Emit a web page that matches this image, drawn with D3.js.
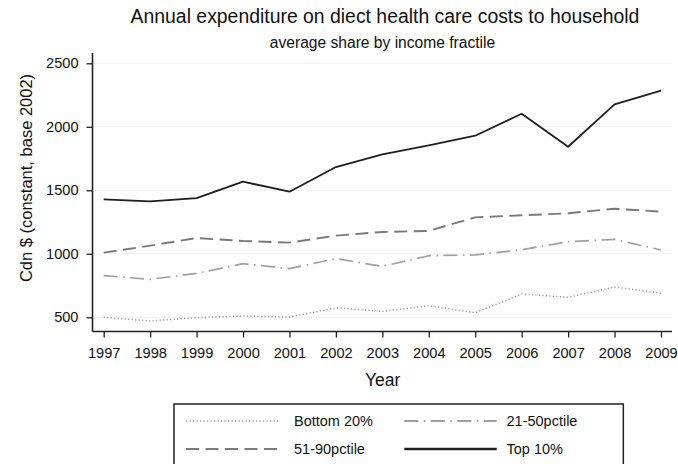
<!DOCTYPE html>
<html>
<head>
<meta charset="utf-8">
<script src="https://cdn.jsdelivr.net/npm/d3@7"></script>
<style>
  body { margin: 0; background: #fff; }
  svg { display: block; font-family: "Liberation Sans", Arial, sans-serif; }
</style>
</head>
<body>
<svg id="chart" width="678" height="464"></svg>
<script>
const years = [1997, 1998, 1999, 2000, 2001, 2002, 2003, 2004, 2005, 2006, 2007, 2008, 2009];
const bottom20 = [500, 471, 497, 510, 502, 574, 547, 591, 536, 683, 657, 739, 689];
const p21to50 = [828, 799, 846, 922, 883, 962, 901, 985, 991, 1032, 1095, 1114, 1030];
const p51to90 = [1009, 1064, 1124, 1101, 1088, 1143, 1172, 1180, 1287, 1303, 1319, 1355, 1332];
const top10 = [1429, 1413, 1439, 1568, 1489, 1683, 1783, 1854, 1930, 2103, 1843, 2177, 2284];
const yTicks = [500, 1000, 1500, 2000, 2500];

const series = [
  { name: "Bottom 20%", values: bottom20, color: "#9a9a9a", width: 1.5, lw: 1.5, dash: "1.2,2.3" },
  { name: "21-50pctile", values: p21to50, color: "#a0a0a0", width: 1.7, lw: 1.8, dash: "14,5.5,1.5,5.5" },
  { name: "51-90pctile", values: p51to90, color: "#7a7a7a", width: 1.9, lw: 1.9, dash: "13,6.5" },
  { name: "Top 10%", values: top10, color: "#1e1e1e", width: 1.8, lw: 2.4, dash: null }
];

const svg = d3.select("#chart");
const plotL = 92.5, plotT = 53, plotR = 672, plotB = 331.5;

const x = d3.scaleLinear().domain([1997, 2009]).range([103.7, 661]);
const y = d3.scaleLinear().domain([500, 2500]).range([317.3, 63.3]);

// gridlines
svg.append("g").selectAll("line").data(yTicks).join("line")
  .attr("x1", plotL).attr("x2", plotR)
  .attr("y1", d => y(d)).attr("y2", d => y(d))
  .attr("stroke", "#f0f0f0").attr("stroke-width", 1);

// axes
const yAxis = svg.append("g").attr("transform", `translate(${plotL},0)`)
  .call(d3.axisLeft(y).tickValues(yTicks).tickSize(6).tickPadding(8).tickFormat(d3.format("d")));
yAxis.select(".domain").attr("d", `M0,${plotT}V${plotB}`);

const xAxis = svg.append("g").attr("transform", `translate(0,${plotB})`)
  .call(d3.axisBottom(x).tickValues(years).tickSize(6).tickPadding(10).tickFormat(d3.format("d")));
xAxis.select(".domain").attr("d", `M${plotL},0H${plotR}`);

svg.selectAll(".tick text").attr("font-size", 14.6).attr("fill", "#111")
  .attr("font-family", "Liberation Sans, Arial, sans-serif");
svg.selectAll(".domain").attr("stroke", "#222").attr("stroke-width", 1.6);
svg.selectAll(".tick line").attr("stroke", "#222").attr("stroke-width", 1.3);

// lines
const line = d3.line().x((d, i) => x(years[i])).y(d => y(d));
svg.append("g").selectAll("path").data(series).join("path")
  .attr("d", d => line(d.values))
  .attr("fill", "none")
  .attr("stroke", d => d.color)
  .attr("stroke-width", d => d.width)
  .attr("stroke-dasharray", d => d.dash)
  .attr("stroke-linejoin", "round");

// titles
svg.append("text").attr("x", 385).attr("y", 22.7).attr("text-anchor", "middle")
  .attr("font-size", 19.4).attr("fill", "#111")
  .text("Annual expenditure on diect health care costs to household");
svg.append("text").attr("x", 382.5).attr("y", 47.5).attr("text-anchor", "middle")
  .attr("font-size", 15.6).attr("fill", "#111")
  .text("average share by income fractile");
svg.append("text").attr("transform", "translate(32,178) rotate(-90)")
  .attr("text-anchor", "middle").attr("font-size", 16.5).attr("fill", "#111")
  .text("Cdn $ (constant, base 2002)");
svg.append("text").attr("x", 382.7).attr("y", 386).attr("text-anchor", "middle")
  .attr("font-size", 17.5).attr("fill", "#111")
  .text("Year");

// legend
const lg = svg.append("g");
lg.append("rect").attr("x", 174).attr("y", 404).attr("width", 449.3).attr("height", 70)
  .attr("fill", "#fff").attr("stroke", "#222").attr("stroke-width", 1.5);
const legendPos = [
  { sx: 186, ex: 279.3, tx: 294, ty: 421 },
  { sx: 404.3, ex: 496.7, tx: 506.5, ty: 421 },
  { sx: 186, ex: 279.3, tx: 294, ty: 449 },
  { sx: 404.3, ex: 496.7, tx: 506.5, ty: 449 }
];
series.forEach((s, i) => {
  const p = legendPos[i];
  lg.append("line").attr("x1", p.sx).attr("x2", p.ex).attr("y1", p.ty).attr("y2", p.ty)
    .attr("stroke", s.color).attr("stroke-width", s.lw).attr("stroke-dasharray", s.dash);
  lg.append("text").attr("x", p.tx).attr("y", p.ty + 5).attr("font-size", 14.5).attr("fill", "#111")
    .text(s.name);
});
</script>
</body>
</html>
